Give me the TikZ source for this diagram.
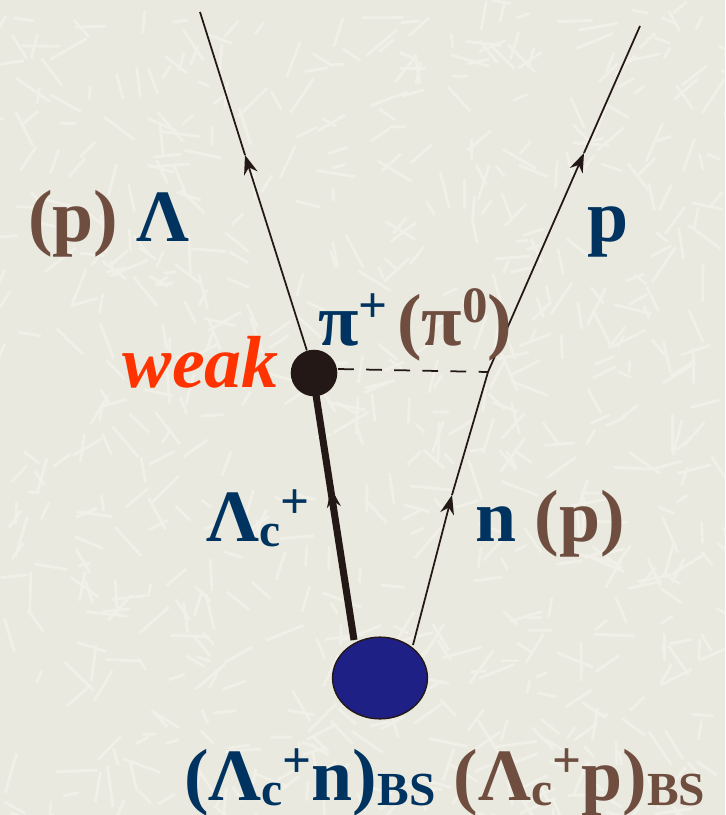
\documentclass[tikz,border=0pt]{standalone}
\usepackage{xcolor}
\usepackage{fontspec}
\setmainfont{Liberation Serif}
\usetikzlibrary{arrows.meta,positioning,shapes.geometric,calc}
\definecolor{paper}{HTML}{E9E9DF}
\definecolor{grain}{HTML}{F0F0E8}
\definecolor{navy}{HTML}{00335F}
\definecolor{umber}{HTML}{6F4E40}
\definecolor{weakred}{HTML}{FF3300}
\definecolor{blob}{HTML}{1E2085}
\definecolor{ink}{HTML}{231815}
\newcommand{\upmark}[1]{\raisebox{0.30em}{\fontsize{29}{29}\selectfont #1}}
\newcommand{\lowmark}[1]{\raisebox{-0.08em}{\fontsize{27}{27}\selectfont #1}}
\newcommand{\bsmark}{\raisebox{-0.08em}{\fontsize{27}{27}\selectfont BS}}
\newcommand{\pion}{π}
\tikzset{
  txt/.style={inner sep=0pt, font=\fontsize{42}{42}\selectfont\bfseries},
  prop/.style={ink, line width=1pt},
  proparrow/.style={prop, ->, >={Stealth[length=11pt,width=8pt]}}
}
\begin{document}
\begin{tikzpicture}[x=0.02cm, y=-0.02cm]
  \useasboundingbox (0,0) rectangle (725,815);
  \fill[paper] (0,0) rectangle (725,815);
  % background grain
  \begin{scope}
    \clip (0,0) rectangle (725,815);
    \pgfmathsetseed{17}
    \foreach \i in {1,...,700} {
      \pgfmathsetmacro{\gx}{rnd*725}
      \pgfmathsetmacro{\gy}{rnd*815}
      \pgfmathsetmacro{\ga}{rnd*180}
      \pgfmathsetmacro{\gl}{12+rnd*30}
      \draw[grain, line width=1.6pt] (\gx,\gy) -- ++(\ga:\gl);
    }
  \end{scope}

  % vertices
  \node (weak) [circle, fill=ink, minimum size=26.5pt, inner sep=0pt] at (314,373) {};
  \node (bound) [ellipse, draw=ink, fill=blob, line width=0.8pt, minimum width=54pt, minimum height=46.5pt, inner sep=0pt] at (380,678) {};

  \coordinate (lamtop) at (200,12);
  \coordinate (lammid) at (245,155);
  \coordinate (ptop) at (640,26);
  \coordinate (pmid) at (584,153);
  \coordinate (pivert) at (488,372);
  \coordinate (nmid) at (452,495);
  \coordinate (lcmid) at (331,488);
  \coordinate (nstart) at (413,645);
  \coordinate (lcstart) at (354,640);
  \coordinate (lcend) at (316,395);
  \coordinate (pistart) at (338,369);

  \draw[proparrow] (weak) -- (lammid);
  \draw[prop] (lammid) -- (lamtop);
  \draw[proparrow] (pivert) -- (pmid);
  \draw[prop] (pmid) -- (ptop);
  \draw[proparrow] (nstart) -- (nmid);
  \draw[prop] (nmid) -- (pivert);
  \draw[prop, line width=4pt] (lcstart) -- (lcend);
  \draw[proparrow] (lcstart) -- (lcmid);
  \draw[prop, dash pattern=on 9pt off 7pt] (pistart) -- (pivert);

  % labels
  \node (plam) [txt, anchor=base west] at (28,241) {\textcolor{umber}{(p)} \textcolor{navy}{Λ}};
  \node (ptext) [txt, anchor=base west, text=navy] at (587,241) {p};
  \node (pitext) [txt, anchor=base west] at (318,345) {\textcolor{navy}{\pion\upmark{+}}\hspace{0.13em}\textcolor{umber}{(\pion\upmark{0})}};
  \node (weaktext) [txt, anchor=base east, text=weakred, font=\fontsize{42}{42}\selectfont\bfseries\itshape] at (279,387) {weak};
  \node (lctext) [txt, anchor=base west, text=navy] at (206,541) {Λ\lowmark{c}\upmark{+}};
  \node (ntext) [txt, anchor=base west] at (475,541) {\textcolor{navy}{n} \textcolor{umber}{(p)}};
  \node (bstext) [txt, anchor=base west] at (184,800) {\textcolor{navy}{(Λ\lowmark{c}\upmark{+}n)\bsmark} \textcolor{umber}{(Λ\lowmark{c}\upmark{+}p)\bsmark}};
\end{tikzpicture}
\end{document}
